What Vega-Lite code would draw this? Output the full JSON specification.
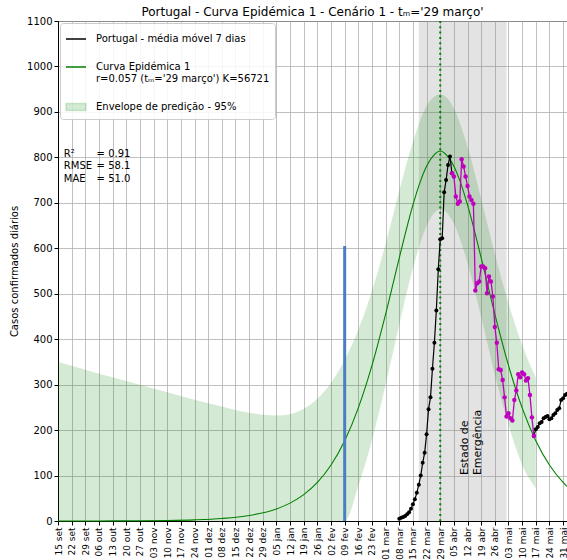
{
  "$schema": "https://vega.github.io/schema/vega-lite/v6.json",
  "width": 509,
  "height": 500,
  "autosize": {"type": "none"},
  "padding": {"left": 58, "top": 21, "right": 0, "bottom": 39},
  "background": "white",
  "title": {"text": "Portugal - Curva Epidémica 1 - Cenário 1 - tₘ='29 março'", "fontSize": 12, "fontWeight": "normal", "font": "DejaVu Sans", "color": "black", "offset": -3},
  "config": {
    "font": "DejaVu Sans",
    "view": {"stroke": "black", "strokeWidth": 1},
    "axis": {"labelFont": "DejaVu Sans", "labelColor": "black", "tickColor": "black", "domainColor": "black", "gridColor": "#b0b0b0", "gridWidth": 0.8, "titleFont": "DejaVu Sans", "titleFontWeight": "normal", "titleColor": "black"},
    "legend": {
      "orient": "top-left",
      "offset": 2,
      "fillColor": "rgba(255,255,255,0.85)",
      "strokeColor": "#cccccc",
      "cornerRadius": 3,
      "padding": 5,
      "labelFont": "DejaVu Sans",
      "labelFontSize": 10,
      "labelColor": "black",
      "labelLimit": 300,
      "labelOffset": 9,
      "rowPadding": 12,
      "symbolSize": 400,
      "symbolStrokeWidth": 1.5
    }
  },
  "datasets": {
    "envelope": [
      {"dia": "2019-09-15", "inferior": 0, "superior": 350, "serie": "Envelope de predição - 95%"},
      {"dia": "2019-09-29", "inferior": 0, "superior": 333, "serie": "Envelope de predição - 95%"},
      {"dia": "2019-10-13", "inferior": 0, "superior": 316, "serie": "Envelope de predição - 95%"},
      {"dia": "2019-10-27", "inferior": 0, "superior": 300, "serie": "Envelope de predição - 95%"},
      {"dia": "2019-11-10", "inferior": 0, "superior": 283, "serie": "Envelope de predição - 95%"},
      {"dia": "2019-11-24", "inferior": 0, "superior": 267, "serie": "Envelope de predição - 95%"},
      {"dia": "2019-12-08", "inferior": 0, "superior": 252, "serie": "Envelope de predição - 95%"},
      {"dia": "2019-12-22", "inferior": 0, "superior": 238, "serie": "Envelope de predição - 95%"},
      {"dia": "2020-01-05", "inferior": 0, "superior": 232, "serie": "Envelope de predição - 95%"},
      {"dia": "2020-01-12", "inferior": 0, "superior": 235, "serie": "Envelope de predição - 95%"},
      {"dia": "2020-01-19", "inferior": 0, "superior": 247, "serie": "Envelope de predição - 95%"},
      {"dia": "2020-01-26", "inferior": 0, "superior": 269, "serie": "Envelope de predição - 95%"},
      {"dia": "2020-02-02", "inferior": 0, "superior": 304, "serie": "Envelope de predição - 95%"},
      {"dia": "2020-02-09", "inferior": 0, "superior": 355, "serie": "Envelope de predição - 95%"},
      {"dia": "2020-02-16", "inferior": 77, "superior": 421, "serie": "Envelope de predição - 95%"},
      {"dia": "2020-02-23", "inferior": 178, "superior": 506, "serie": "Envelope de predição - 95%"},
      {"dia": "2020-03-01", "inferior": 300, "superior": 610, "serie": "Envelope de predição - 95%"},
      {"dia": "2020-03-08", "inferior": 432, "superior": 726, "serie": "Envelope de predição - 95%"},
      {"dia": "2020-03-15", "inferior": 556, "superior": 834, "serie": "Envelope de predição - 95%"},
      {"dia": "2020-03-22", "inferior": 649, "superior": 913, "serie": "Envelope de predição - 95%"},
      {"dia": "2020-03-26", "inferior": 678, "superior": 934, "serie": "Envelope de predição - 95%"},
      {"dia": "2020-03-29", "inferior": 686, "superior": 939, "serie": "Envelope de predição - 95%"},
      {"dia": "2020-04-01", "inferior": 679, "superior": 933, "serie": "Envelope de predição - 95%"},
      {"dia": "2020-04-05", "inferior": 654, "superior": 908, "serie": "Envelope de predição - 95%"},
      {"dia": "2020-04-12", "inferior": 567, "superior": 823, "serie": "Envelope de predição - 95%"},
      {"dia": "2020-04-19", "inferior": 449, "superior": 709, "serie": "Envelope de predição - 95%"},
      {"dia": "2020-04-26", "inferior": 322, "superior": 588, "serie": "Envelope de predição - 95%"},
      {"dia": "2020-05-03", "inferior": 212, "superior": 479, "serie": "Envelope de predição - 95%"},
      {"dia": "2020-05-10", "inferior": 124, "superior": 387, "serie": "Envelope de predição - 95%"},
      {"dia": "2020-05-17", "inferior": 72, "superior": 315, "serie": "Envelope de predição - 95%"}
    ],
    "curva": [
      {"dia": "2019-09-15", "casos": 0.05, "serie": "Curva Epidémica 1"},
      {"dia": "2019-09-29", "casos": 0.1, "serie": "Curva Epidémica 1"},
      {"dia": "2019-10-13", "casos": 0.2, "serie": "Curva Epidémica 1"},
      {"dia": "2019-10-27", "casos": 0.5, "serie": "Curva Epidémica 1"},
      {"dia": "2019-11-10", "casos": 1.1, "serie": "Curva Epidémica 1"},
      {"dia": "2019-11-24", "casos": 2.5, "serie": "Curva Epidémica 1"},
      {"dia": "2019-12-08", "casos": 5.5, "serie": "Curva Epidémica 1"},
      {"dia": "2019-12-22", "casos": 12.1, "serie": "Curva Epidémica 1"},
      {"dia": "2020-01-05", "casos": 26.6, "serie": "Curva Epidémica 1"},
      {"dia": "2020-01-12", "casos": 39.3, "serie": "Curva Epidémica 1"},
      {"dia": "2020-01-19", "casos": 57.9, "serie": "Curva Epidémica 1"},
      {"dia": "2020-01-26", "casos": 84.8, "serie": "Curva Epidémica 1"},
      {"dia": "2020-02-02", "casos": 123.1, "serie": "Curva Epidémica 1"},
      {"dia": "2020-02-09", "casos": 176.6, "serie": "Curva Epidémica 1"},
      {"dia": "2020-02-16", "casos": 248.9, "serie": "Curva Epidémica 1"},
      {"dia": "2020-02-23", "casos": 342.3, "serie": "Curva Epidémica 1"},
      {"dia": "2020-03-01", "casos": 455.2, "serie": "Curva Epidémica 1"},
      {"dia": "2020-03-08", "casos": 578.7, "serie": "Curva Epidémica 1"},
      {"dia": "2020-03-12", "casos": 647.7, "serie": "Curva Epidémica 1"},
      {"dia": "2020-03-15", "casos": 695.3, "serie": "Curva Epidémica 1"},
      {"dia": "2020-03-19", "casos": 749.5, "serie": "Curva Epidémica 1"},
      {"dia": "2020-03-22", "casos": 780.6, "serie": "Curva Epidémica 1"},
      {"dia": "2020-03-26", "casos": 806.1, "serie": "Curva Epidémica 1"},
      {"dia": "2020-03-29", "casos": 814, "serie": "Curva Epidémica 1"},
      {"dia": "2020-04-01", "casos": 806.1, "serie": "Curva Epidémica 1"},
      {"dia": "2020-04-05", "casos": 780.6, "serie": "Curva Epidémica 1"},
      {"dia": "2020-04-08", "casos": 749.5, "serie": "Curva Epidémica 1"},
      {"dia": "2020-04-12", "casos": 695.3, "serie": "Curva Epidémica 1"},
      {"dia": "2020-04-15", "casos": 647.7, "serie": "Curva Epidémica 1"},
      {"dia": "2020-04-19", "casos": 578.7, "serie": "Curva Epidémica 1"},
      {"dia": "2020-04-26", "casos": 455.2, "serie": "Curva Epidémica 1"},
      {"dia": "2020-05-03", "casos": 342.3, "serie": "Curva Epidémica 1"},
      {"dia": "2020-05-10", "casos": 248.9, "serie": "Curva Epidémica 1"},
      {"dia": "2020-05-17", "casos": 176.6, "serie": "Curva Epidémica 1"},
      {"dia": "2020-05-24", "casos": 123.1, "serie": "Curva Epidémica 1"},
      {"dia": "2020-05-31", "casos": 84.8, "serie": "Curva Epidémica 1"},
      {"dia": "2020-06-02", "casos": 76.1, "serie": "Curva Epidémica 1"}
    ],
    "media": [
      {"dia": "2020-03-08", "casos": 5, "trecho": 1, "serie": "Portugal - média móvel 7 dias"},
      {"dia": "2020-03-09", "casos": 7, "trecho": 1, "serie": "Portugal - média móvel 7 dias"},
      {"dia": "2020-03-10", "casos": 9, "trecho": 1, "serie": "Portugal - média móvel 7 dias"},
      {"dia": "2020-03-11", "casos": 11, "trecho": 1, "serie": "Portugal - média móvel 7 dias"},
      {"dia": "2020-03-12", "casos": 15, "trecho": 1, "serie": "Portugal - média móvel 7 dias"},
      {"dia": "2020-03-13", "casos": 19, "trecho": 1, "serie": "Portugal - média móvel 7 dias"},
      {"dia": "2020-03-14", "casos": 27, "trecho": 1, "serie": "Portugal - média móvel 7 dias"},
      {"dia": "2020-03-15", "casos": 37, "trecho": 1, "serie": "Portugal - média móvel 7 dias"},
      {"dia": "2020-03-16", "casos": 48, "trecho": 1, "serie": "Portugal - média móvel 7 dias"},
      {"dia": "2020-03-17", "casos": 62, "trecho": 1, "serie": "Portugal - média móvel 7 dias"},
      {"dia": "2020-03-18", "casos": 80, "trecho": 1, "serie": "Portugal - média móvel 7 dias"},
      {"dia": "2020-03-19", "casos": 100, "trecho": 1, "serie": "Portugal - média móvel 7 dias"},
      {"dia": "2020-03-20", "casos": 128, "trecho": 1, "serie": "Portugal - média móvel 7 dias"},
      {"dia": "2020-03-21", "casos": 150, "trecho": 1, "serie": "Portugal - média móvel 7 dias"},
      {"dia": "2020-03-22", "casos": 191, "trecho": 1, "serie": "Portugal - média móvel 7 dias"},
      {"dia": "2020-03-23", "casos": 246, "trecho": 1, "serie": "Portugal - média móvel 7 dias"},
      {"dia": "2020-03-24", "casos": 272, "trecho": 1, "serie": "Portugal - média móvel 7 dias"},
      {"dia": "2020-03-25", "casos": 335, "trecho": 1, "serie": "Portugal - média móvel 7 dias"},
      {"dia": "2020-03-26", "casos": 392, "trecho": 1, "serie": "Portugal - média móvel 7 dias"},
      {"dia": "2020-03-27", "casos": 463, "trecho": 1, "serie": "Portugal - média móvel 7 dias"},
      {"dia": "2020-03-28", "casos": 554, "trecho": 1, "serie": "Portugal - média móvel 7 dias"},
      {"dia": "2020-03-29", "casos": 620, "trecho": 1, "serie": "Portugal - média móvel 7 dias"},
      {"dia": "2020-03-30", "casos": 622, "trecho": 1, "serie": "Portugal - média móvel 7 dias"},
      {"dia": "2020-03-31", "casos": 723, "trecho": 1, "serie": "Portugal - média móvel 7 dias"},
      {"dia": "2020-04-01", "casos": 750, "trecho": 1, "serie": "Portugal - média móvel 7 dias"},
      {"dia": "2020-04-02", "casos": 783, "trecho": 1, "serie": "Portugal - média móvel 7 dias"},
      {"dia": "2020-04-03", "casos": 802, "trecho": 1, "serie": "Portugal - média móvel 7 dias"},
      {"dia": "2020-04-04", "casos": 765, "trecho": 1, "serie": "Portugal - média móvel 7 dias"},
      {"dia": "2020-05-16", "casos": 187, "trecho": 2, "serie": "Portugal - média móvel 7 dias"},
      {"dia": "2020-05-17", "casos": 202, "trecho": 2, "serie": "Portugal - média móvel 7 dias"},
      {"dia": "2020-05-18", "casos": 207, "trecho": 2, "serie": "Portugal - média móvel 7 dias"},
      {"dia": "2020-05-19", "casos": 215, "trecho": 2, "serie": "Portugal - média móvel 7 dias"},
      {"dia": "2020-05-20", "casos": 218, "trecho": 2, "serie": "Portugal - média móvel 7 dias"},
      {"dia": "2020-05-21", "casos": 226, "trecho": 2, "serie": "Portugal - média móvel 7 dias"},
      {"dia": "2020-05-22", "casos": 229, "trecho": 2, "serie": "Portugal - média móvel 7 dias"},
      {"dia": "2020-05-23", "casos": 231, "trecho": 2, "serie": "Portugal - média móvel 7 dias"},
      {"dia": "2020-05-24", "casos": 224, "trecho": 2, "serie": "Portugal - média móvel 7 dias"},
      {"dia": "2020-05-25", "casos": 226, "trecho": 2, "serie": "Portugal - média móvel 7 dias"},
      {"dia": "2020-05-26", "casos": 233, "trecho": 2, "serie": "Portugal - média móvel 7 dias"},
      {"dia": "2020-05-27", "casos": 237, "trecho": 2, "serie": "Portugal - média móvel 7 dias"},
      {"dia": "2020-05-28", "casos": 244, "trecho": 2, "serie": "Portugal - média móvel 7 dias"},
      {"dia": "2020-05-29", "casos": 248, "trecho": 2, "serie": "Portugal - média móvel 7 dias"},
      {"dia": "2020-05-30", "casos": 266, "trecho": 2, "serie": "Portugal - média móvel 7 dias"},
      {"dia": "2020-05-31", "casos": 270, "trecho": 2, "serie": "Portugal - média móvel 7 dias"},
      {"dia": "2020-06-01", "casos": 277, "trecho": 2, "serie": "Portugal - média móvel 7 dias"},
      {"dia": "2020-06-02", "casos": 280, "trecho": 2, "serie": "Portugal - média móvel 7 dias"}
    ],
    "validacao": [
      {"dia": "2020-04-04", "casos": 765}, {"dia": "2020-04-05", "casos": 758},
      {"dia": "2020-04-06", "casos": 714}, {"dia": "2020-04-07", "casos": 698},
      {"dia": "2020-04-08", "casos": 703}, {"dia": "2020-04-09", "casos": 796},
      {"dia": "2020-04-10", "casos": 780}, {"dia": "2020-04-11", "casos": 758},
      {"dia": "2020-04-12", "casos": 737}, {"dia": "2020-04-13", "casos": 714},
      {"dia": "2020-04-14", "casos": 706}, {"dia": "2020-04-15", "casos": 698},
      {"dia": "2020-04-16", "casos": 507}, {"dia": "2020-04-17", "casos": 523},
      {"dia": "2020-04-18", "casos": 527}, {"dia": "2020-04-19", "casos": 560},
      {"dia": "2020-04-20", "casos": 560}, {"dia": "2020-04-21", "casos": 556},
      {"dia": "2020-04-22", "casos": 501}, {"dia": "2020-04-23", "casos": 538},
      {"dia": "2020-04-24", "casos": 527}, {"dia": "2020-04-25", "casos": 494},
      {"dia": "2020-04-26", "casos": 427}, {"dia": "2020-04-27", "casos": 392},
      {"dia": "2020-04-28", "casos": 334}, {"dia": "2020-04-29", "casos": 332},
      {"dia": "2020-04-30", "casos": 310}, {"dia": "2020-05-01", "casos": 272},
      {"dia": "2020-05-02", "casos": 230}, {"dia": "2020-05-03", "casos": 237},
      {"dia": "2020-05-04", "casos": 226}, {"dia": "2020-05-05", "casos": 221},
      {"dia": "2020-05-06", "casos": 266}, {"dia": "2020-05-07", "casos": 287},
      {"dia": "2020-05-08", "casos": 323}, {"dia": "2020-05-09", "casos": 316},
      {"dia": "2020-05-10", "casos": 327}, {"dia": "2020-05-11", "casos": 323},
      {"dia": "2020-05-12", "casos": 309}, {"dia": "2020-05-13", "casos": 314},
      {"dia": "2020-05-14", "casos": 277}, {"dia": "2020-05-15", "casos": 228},
      {"dia": "2020-05-16", "casos": 187}
    ],
    "marco": [{"dia": "2020-02-09", "inicio": 0, "fim": 605}]
  },
  "layer": [
    {
      "data": {"values": [{}]},
      "mark": {"type": "rect", "color": "gray", "opacity": 0.22},
      "encoding": {
        "x": {
          "datum": {"year": 2020, "month": 3, "date": 18, "utc": true},
          "type": "temporal",
          "scale": {"type": "utc", "domain": [{"year": 2019, "month": 9, "date": 15, "utc": true}, {"year": 2020, "month": 6, "date": 2, "utc": true}]},
          "axis": {
            "title": null,
            "tickCount": {"interval": "week", "step": 1},
            "labelExpr": "utcFormat(datum.value, '%d') + ' ' + ['jan','fev','mar','abr','mai','jun','jul','ago','set','out','nov','dez'][utcmonth(datum.value)]",
            "labelAngle": -90,
            "labelFontSize": 9,
            "tickSize": 4,
            "labelPadding": 2,
            "labelOverlap": false,
            "labelFlush": false,
            "labelBound": false,
            "grid": true
          }
        },
        "x2": {"datum": {"year": 2020, "month": 5, "date": 2, "utc": true}}
      }
    },
    {
      "data": {"name": "envelope"},
      "mark": {"type": "area", "interpolate": "monotone"},
      "encoding": {
        "x": {"field": "dia", "type": "temporal"},
        "y": {
          "field": "inferior", "type": "quantitative",
          "scale": {"domain": [0, 1100], "nice": false},
          "axis": {"title": "Casos confirmados diários", "titleFontSize": 10, "labelFontSize": 10, "format": "d", "values": [0, 100, 200, 300, 400, 500, 600, 700, 800, 900, 1000, 1100], "tickSize": 4, "labelPadding": 2, "titlePadding": 7, "grid": true}
        },
        "y2": {"field": "superior"},
        "color": {
          "field": "serie", "type": "nominal",
          "scale": {"domain": ["Portugal - média móvel 7 dias", "Curva Epidémica 1", "Envelope de predição - 95%"], "range": ["black", "green", "rgba(0,128,0,0.17)"]},
          "legend": {
            "title": null,
            "symbolType": "stroke",
            "labelExpr": "datum.label == 'Curva Epidémica 1' ? ['Curva Epidémica 1', \"r=0.057 (tₘ='29 março') K=56721\"] : datum.label",
            "encode": {
              "symbols": {
                "update": {
                  "shape": {"signal": "datum.value == 'Envelope de predição - 95%' ? 'M-1,-0.35H1V0.35H-1Z' : 'stroke'"},
                  "fill": {"signal": "datum.value == 'Envelope de predição - 95%' ? 'rgba(0,128,0,0.2)' : 'transparent'"},
                  "stroke": {"signal": "datum.value == 'Envelope de predição - 95%' ? 'rgba(0,128,0,0.22)' : (datum.value == 'Curva Epidémica 1' ? 'green' : '#404040')"},
                  "opacity": {"value": 1},
                  "fillOpacity": {"value": 1},
                  "strokeOpacity": {"value": 1}
                }
              }
            }
          }
        }
      }
    },
    {
      "data": {"name": "curva"},
      "mark": {"type": "line", "strokeWidth": 1.1, "interpolate": "monotone"},
      "encoding": {
        "x": {"field": "dia", "type": "temporal"},
        "y": {"field": "casos", "type": "quantitative"},
        "color": {
          "field": "serie", "type": "nominal",
          "legend": {
            "title": null,
            "symbolType": "stroke",
            "labelExpr": "datum.label == 'Curva Epidémica 1' ? ['Curva Epidémica 1', \"r=0.057 (tₘ='29 março') K=56721\"] : datum.label",
            "encode": {
              "symbols": {
                "update": {
                  "shape": {"signal": "datum.value == 'Envelope de predição - 95%' ? 'M-1,-0.35H1V0.35H-1Z' : 'stroke'"},
                  "fill": {"signal": "datum.value == 'Envelope de predição - 95%' ? 'rgba(0,128,0,0.2)' : 'transparent'"},
                  "stroke": {"signal": "datum.value == 'Envelope de predição - 95%' ? 'rgba(0,128,0,0.22)' : (datum.value == 'Curva Epidémica 1' ? 'green' : '#404040')"},
                  "opacity": {"value": 1},
                  "fillOpacity": {"value": 1},
                  "strokeOpacity": {"value": 1}
                }
              }
            }
          }
        }
      }
    },
    {
      "data": {"name": "marco"},
      "mark": {"type": "rule", "color": "#4a7ebf", "strokeWidth": 3},
      "encoding": {
        "x": {"field": "dia", "type": "temporal"},
        "y": {"field": "inicio", "type": "quantitative"},
        "y2": {"field": "fim"}
      }
    },
    {
      "data": {"values": [{}]},
      "mark": {"type": "rule", "color": "green", "strokeWidth": 2, "strokeDash": [2, 3.3]},
      "encoding": {
        "x": {"datum": {"year": 2020, "month": 3, "date": 29, "utc": true}, "type": "temporal"}
      }
    },
    {
      "data": {"name": "media"},
      "mark": {"type": "line", "strokeWidth": 1.2, "clip": true},
      "encoding": {
        "x": {"field": "dia", "type": "temporal"},
        "y": {"field": "casos", "type": "quantitative"},
        "color": {
          "field": "serie", "type": "nominal",
          "legend": {
            "title": null,
            "symbolType": "stroke",
            "labelExpr": "datum.label == 'Curva Epidémica 1' ? ['Curva Epidémica 1', \"r=0.057 (tₘ='29 março') K=56721\"] : datum.label",
            "encode": {
              "symbols": {
                "update": {
                  "shape": {"signal": "datum.value == 'Envelope de predição - 95%' ? 'M-1,-0.35H1V0.35H-1Z' : 'stroke'"},
                  "fill": {"signal": "datum.value == 'Envelope de predição - 95%' ? 'rgba(0,128,0,0.2)' : 'transparent'"},
                  "stroke": {"signal": "datum.value == 'Envelope de predição - 95%' ? 'rgba(0,128,0,0.22)' : (datum.value == 'Curva Epidémica 1' ? 'green' : '#404040')"},
                  "opacity": {"value": 1},
                  "fillOpacity": {"value": 1},
                  "strokeOpacity": {"value": 1}
                }
              }
            }
          }
        },
        "detail": {"field": "trecho", "type": "nominal"}
      }
    },
    {
      "data": {"name": "media"},
      "mark": {"type": "point", "filled": true, "size": 16, "opacity": 1, "color": "black", "clip": true},
      "encoding": {
        "x": {"field": "dia", "type": "temporal"},
        "y": {"field": "casos", "type": "quantitative"}
      }
    },
    {
      "data": {"name": "validacao"},
      "mark": {"type": "line", "strokeWidth": 1.3, "color": "#bf00bf"},
      "encoding": {
        "x": {"field": "dia", "type": "temporal"},
        "y": {"field": "casos", "type": "quantitative"}
      }
    },
    {
      "data": {"name": "validacao"},
      "mark": {"type": "point", "filled": true, "size": 20, "opacity": 1, "color": "#bf00bf"},
      "encoding": {
        "x": {"field": "dia", "type": "temporal"},
        "y": {"field": "casos", "type": "quantitative"}
      }
    },
    {
      "data": {"values": [{}]},
      "mark": {"type": "text", "text": ["R²", "RMSE", "MAE"], "align": "left", "baseline": "alphabetic", "fontSize": 10, "lineHeight": 12.3, "color": "black", "font": "DejaVu Sans"},
      "encoding": {
        "x": {"datum": {"year": 2019, "month": 9, "date": 18, "utc": true}, "type": "temporal"},
        "y": {"datum": 801, "type": "quantitative"}
      }
    },
    {
      "data": {"values": [{}]},
      "mark": {"type": "text", "text": ["= 0.91", "= 58.1", "= 51.0"], "align": "left", "baseline": "alphabetic", "fontSize": 10, "lineHeight": 12.3, "color": "black", "font": "DejaVu Sans"},
      "encoding": {
        "x": {"datum": {"year": 2019, "month": 10, "date": 4, "hours": 19, "utc": true}, "type": "temporal"},
        "y": {"datum": 801, "type": "quantitative"}
      }
    },
    {
      "data": {"values": [{}]},
      "mark": {"type": "text", "text": ["Estado de", "Emergência"], "angle": 270, "align": "left", "baseline": "alphabetic", "fontSize": 11, "lineHeight": 13.2, "color": "black", "font": "DejaVu Sans"},
      "encoding": {
        "x": {"datum": {"year": 2020, "month": 4, "date": 12, "utc": true}, "type": "temporal"},
        "y": {"datum": 101, "type": "quantitative"}
      }
    }
  ]
}
